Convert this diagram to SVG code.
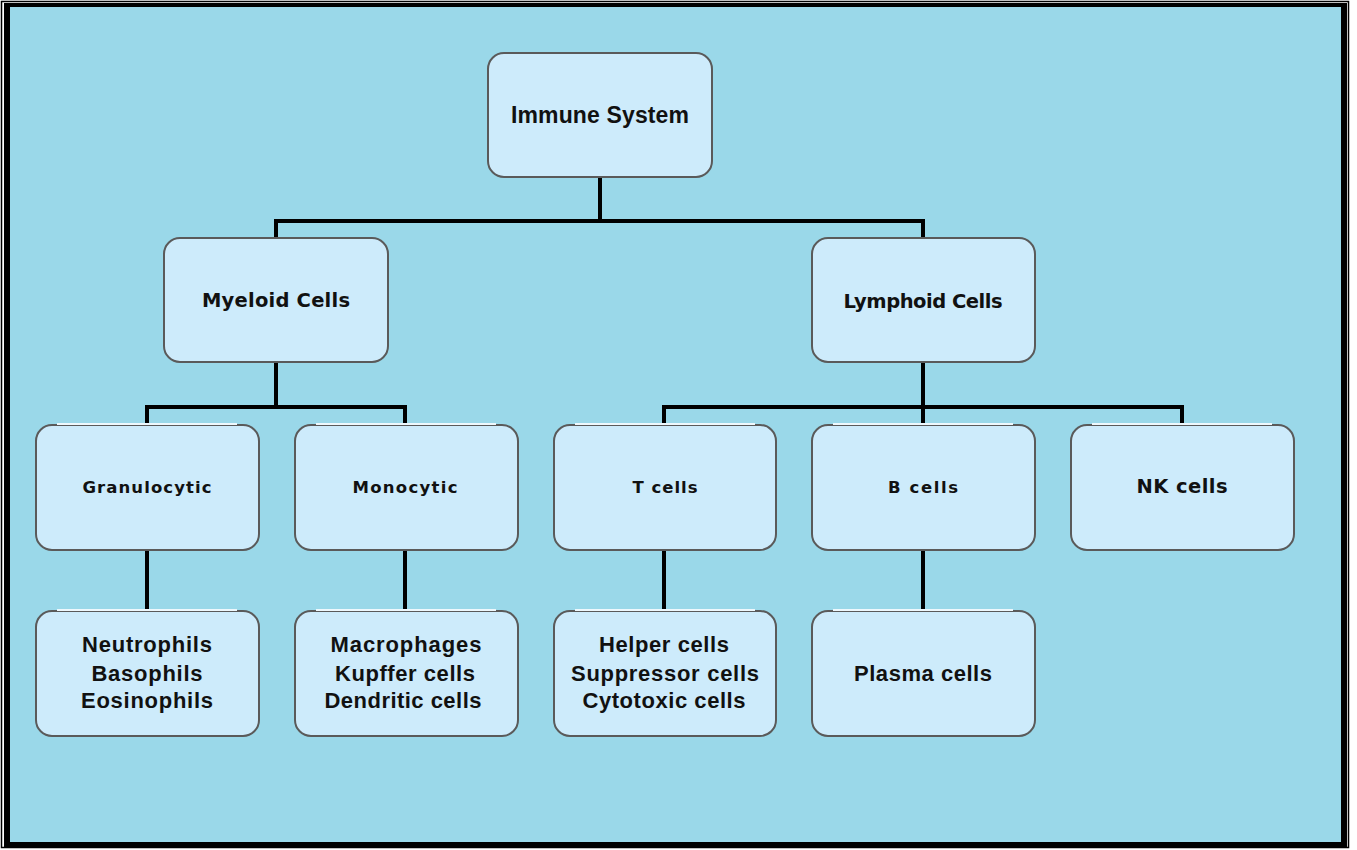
<svg xmlns="http://www.w3.org/2000/svg" width="1357" height="850" viewBox="0 0 1357 850">
  <style>
    .box { fill: #cdebfb; stroke: #5a5a5a; stroke-width: 2; }
    .hl { stroke: #eef8fd; stroke-width: 2; }
    .lbl { font-family: "Liberation Sans", Arial, sans-serif; font-weight: bold; fill: #111; text-anchor: middle; }
    .wide { font-family: "DejaVu Sans", Verdana, sans-serif; }
    .big { font-size: 23px; }
    .mid { font-size: 19.5px; }
    .sml { font-size: 16.5px; }
    .leaf { font-size: 22px; }
    .wire { fill: none; stroke: #000; stroke-width: 4; stroke-linejoin: miter; }
  </style>

  <!-- page and double frame -->
  <rect x="0" y="0" width="1357" height="850" fill="#fff"/>
  <rect x="1.5" y="1.5" width="1347" height="846" fill="none" stroke="#000" stroke-width="1.5"/>
  <rect x="4" y="3" width="1343" height="844" fill="#000"/>
  <rect x="10" y="7" width="1331" height="835" fill="#9ad8e9"/>

  <!-- connectors -->
  <g id="connectors" class="wire">
    <path d="M600 177 V221 M276 237 V221 H923 V237"/>
    <path d="M276 362 V407 M147 424 V407 H405 V424"/>
    <path d="M923 362 V407 M664 424 V407 H1182 V424 M923 407 V424"/>
    <path d="M147 550 V610 M405 550 V610 M664 550 V610 M923 550 V610"/>
  </g>

  <g id="immune-system">
    <rect class="box" x="488" y="53" width="224" height="124" rx="16"/>
    <text class="lbl big" x="600" y="123" textLength="178" lengthAdjust="spacing">Immune System</text>
  </g>

  <g id="myeloid-cells">
    <rect class="box" x="164" y="238" width="224" height="124" rx="16"/>
    <text class="lbl wide mid" x="276" y="307" textLength="148" lengthAdjust="spacing">Myeloid Cells</text>
  </g>

  <g id="lymphoid-cells">
    <rect class="box" x="812" y="238" width="223" height="124" rx="16"/>
    <text class="lbl wide mid" x="923" y="308" textLength="159" lengthAdjust="spacing">Lymphoid Cells</text>
  </g>

  <g id="granulocytic">
    <rect class="box" x="36" y="425" width="223" height="125" rx="16"/>
    <line class="hl" x1="57" y1="424" x2="237" y2="424"/>
    <text class="lbl wide sml" x="147" y="493" textLength="129" lengthAdjust="spacing">Granulocytic</text>
  </g>

  <g id="monocytic">
    <rect class="box" x="295" y="425" width="223" height="125" rx="16"/>
    <line class="hl" x1="316" y1="424" x2="496" y2="424"/>
    <text class="lbl wide sml" x="405" y="493" textLength="105" lengthAdjust="spacing">Monocytic</text>
  </g>

  <g id="t-cells">
    <rect class="box" x="554" y="425" width="222" height="125" rx="16"/>
    <line class="hl" x1="575" y1="424" x2="755" y2="424"/>
    <text class="lbl wide sml" x="665" y="493" textLength="65" lengthAdjust="spacing">T cells</text>
  </g>

  <g id="b-cells">
    <rect class="box" x="812" y="425" width="223" height="125" rx="16"/>
    <line class="hl" x1="833" y1="424" x2="1013" y2="424"/>
    <text class="lbl wide sml" x="923" y="493" textLength="70" lengthAdjust="spacing">B cells</text>
  </g>

  <g id="nk-cells">
    <rect class="box" x="1071" y="425" width="223" height="125" rx="16"/>
    <line class="hl" x1="1092" y1="424" x2="1272" y2="424"/>
    <text class="lbl wide mid" x="1182" y="493" textLength="91" lengthAdjust="spacing">NK cells</text>
  </g>

  <g id="granulocyte-types">
    <rect class="box" x="36" y="611" width="223" height="125" rx="16"/>
    <line class="hl" x1="57" y1="610" x2="237" y2="610"/>
    <text class="lbl leaf" x="147" y="652" textLength="130" lengthAdjust="spacing">Neutrophils</text>
    <text class="lbl leaf" x="147" y="681" textLength="111" lengthAdjust="spacing">Basophils</text>
    <text class="lbl leaf" x="147" y="708" textLength="132" lengthAdjust="spacing">Eosinophils</text>
  </g>

  <g id="monocyte-types">
    <rect class="box" x="295" y="611" width="223" height="125" rx="16"/>
    <line class="hl" x1="316" y1="610" x2="496" y2="610"/>
    <text class="lbl leaf" x="406" y="652" textLength="151" lengthAdjust="spacing">Macrophages</text>
    <text class="lbl leaf" x="405" y="681" textLength="140" lengthAdjust="spacing">Kupffer cells</text>
    <text class="lbl leaf" x="403" y="708" textLength="157" lengthAdjust="spacing">Dendritic cells</text>
  </g>

  <g id="t-cell-types">
    <rect class="box" x="554" y="611" width="222" height="125" rx="16"/>
    <line class="hl" x1="575" y1="610" x2="755" y2="610"/>
    <text class="lbl leaf" x="664" y="652" textLength="130" lengthAdjust="spacing">Helper cells</text>
    <text class="lbl leaf" x="665" y="681" textLength="188" lengthAdjust="spacing">Suppressor cells</text>
    <text class="lbl leaf" x="664" y="708" textLength="163" lengthAdjust="spacing">Cytotoxic cells</text>
  </g>

  <g id="plasma-cells">
    <rect class="box" x="812" y="611" width="223" height="125" rx="16"/>
    <line class="hl" x1="833" y1="610" x2="1013" y2="610"/>
    <text class="lbl leaf" x="923" y="681" textLength="138" lengthAdjust="spacing">Plasma cells</text>
  </g>
</svg>
